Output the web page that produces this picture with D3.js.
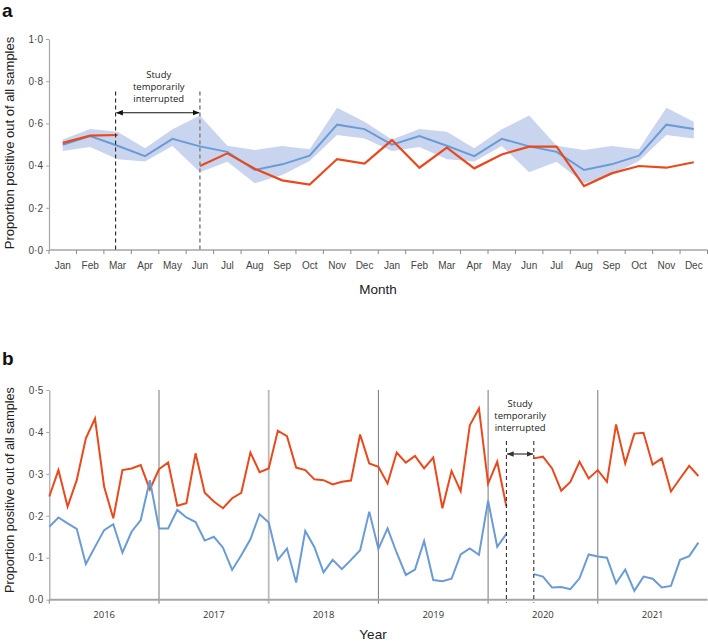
<!DOCTYPE html>
<html><head><meta charset="utf-8">
<script src="https://cdn.jsdelivr.net/npm/d3@7"></script>
<style>body{margin:0;background:#fff}svg{display:block}</style>
</head><body>
<svg id="c" width="708" height="644"></svg>
<script>
// ---------- DATA ----------
const monthNames = ["Jan","Feb","Mar","Apr","May","Jun","Jul","Aug","Sep","Oct","Nov","Dec"];
const monthsA = monthNames.concat(monthNames);
// panel a: historical mean and range (per calendar month)
const histMean  = [0.499,0.540,0.494,0.445,0.527,0.491,0.465,0.379,0.406,0.447,0.594,0.573];
const histUpper = [0.524,0.573,0.561,0.482,0.572,0.637,0.494,0.474,0.493,0.477,0.674,0.608];
const histLower = [0.469,0.488,0.430,0.419,0.493,0.368,0.418,0.316,0.355,0.422,0.545,0.529];
// panel a: observed 2020-2021
const observedA = [0.508,0.542,0.545,null,null,0.398,0.458,0.385,0.330,0.310,0.431,0.409,
                   0.521,0.390,0.485,0.387,0.453,0.490,0.490,0.303,0.363,0.398,0.390,0.416];
const yTicksA = [0,0.2,0.4,0.6,0.8,1.0];
// panel b: monthly 2016-2021
const years = ["2016","2017","2018","2019","2020","2021"];
const redB = [0.246,0.309,0.222,0.285,0.385,0.432,0.269,0.194,0.309,0.313,0.321,0.263,
              0.311,0.327,0.224,0.230,0.349,0.255,0.234,0.218,0.242,0.255,0.351,0.304,
              0.313,0.403,0.390,0.315,0.309,0.287,0.285,0.275,0.281,0.284,0.394,0.325,
              0.317,0.277,0.351,0.327,0.343,0.313,0.339,0.218,0.307,0.259,0.416,0.456,
              0.277,0.329,0.223,null,null,0.337,0.341,0.313,0.260,0.281,0.329,0.289,
              0.309,0.281,0.418,0.325,0.396,0.398,0.322,0.337,0.258,0.289,0.319,0.295];
const blueB = [0.174,0.196,0.182,0.169,0.085,0.126,0.166,0.180,0.112,0.162,0.190,0.285,
               0.170,0.170,0.214,0.196,0.185,0.141,0.150,0.124,0.071,0.106,0.144,0.204,
               0.184,0.095,0.122,0.041,0.164,0.125,0.065,0.095,0.073,0.095,0.118,0.210,
               0.121,0.170,0.112,0.059,0.072,0.140,0.047,0.044,0.050,0.108,0.122,0.107,
               0.236,0.126,0.157,null,null,0.061,0.055,0.029,0.030,0.025,0.051,0.108,
               0.103,0.100,0.039,0.072,0.021,0.055,0.050,0.029,0.033,0.095,0.104,0.136];
const yTicksB = [0,0.1,0.2,0.3,0.4,0.5];
const gapStart = 50, gapEnd = 53; // Mar 2020, Jun 2020 (index)
const gapA = [2,5];

// ---------- STYLE ----------
const RED = "#e8491d", BLUE = "#6a9bd5", BAND = "#c9d5ef", AXIS = "#a6a6a6";
const sans = "'Liberation Sans', Arial, sans-serif";
const myriad = "'Open Sans', 'Noto Sans', sans-serif";
const fmt = d => d3.format(".1f")(d).replace(".", "·");

const svg = d3.select("#c");
const defs = svg.append("defs");
function arrowMarker(id, color, orient) {
  defs.append("marker").attr("id", id).attr("viewBox", "0 0 10 10")
    .attr("refX", 9).attr("refY", 5).attr("markerWidth", 7).attr("markerHeight", 7)
    .attr("orient", orient).attr("markerUnits", "userSpaceOnUse")
    .append("path").attr("d", "M0,1 L10,5 L0,9 Z").attr("fill", color);
}
arrowMarker("arrA", "#111", "auto-start-reverse");
arrowMarker("arrB", "#333", "auto-start-reverse");

// ================= PANEL A =================
const L = 49, R = 707.5;
const xA = d3.scaleBand().domain(d3.range(24)).range([L, R]);
const cx = i => xA(i) + xA.bandwidth() / 2;
const yA = d3.scaleLinear().domain([0, 1]).range([250, 39]);
const gA = svg.append("g");

gA.append("text").text("a").attr("x", 2).attr("y", 17).attr("font-family", sans)
  .attr("font-weight", "bold").attr("font-size", 19).attr("fill", "#111");

const bandData = d3.range(24).map(i => ({i, lo: histLower[i % 12], hi: histUpper[i % 12], m: histMean[i % 12]}));
gA.append("path").datum(bandData)
  .attr("d", d3.area().x(d => cx(d.i)).y0(d => yA(d.lo)).y1(d => yA(d.hi)))
  .attr("fill", BAND);

// axes
const yAxisA = d3.axisLeft(yA).tickValues(yTicksA).tickFormat(fmt).tickSize(3).tickSizeOuter(0);
const ga = gA.append("g").attr("transform", `translate(${L},0)`).call(yAxisA);
ga.select(".domain").attr("stroke", AXIS).attr("stroke-width", 1.2);
ga.selectAll(".tick line").attr("stroke", AXIS);
ga.selectAll("text").attr("font-family", sans).attr("font-size", 10).attr("fill", "#444").attr("x", -6);

gA.append("line").attr("x1", L).attr("x2", R).attr("y1", yA(0)).attr("y2", yA(0))
  .attr("stroke", AXIS).attr("stroke-width", 1.6);
gA.selectAll(".xt").data(d3.range(25)).join("line")
  .attr("x1", i => i < 24 ? xA(i) : R).attr("x2", i => i < 24 ? xA(i) : R)
  .attr("y1", yA(0)).attr("y2", yA(0) + 4).attr("stroke", "#888").attr("stroke-width", 1);
gA.selectAll(".xl").data(monthsA).join("text")
  .attr("x", (d, i) => cx(i)).attr("y", 269).attr("text-anchor", "middle")
  .attr("font-family", sans).attr("font-size", 10).attr("fill", "#444").text(d => d);

gA.append("text").text("Month").attr("x", 378).attr("y", 294).attr("text-anchor", "middle")
  .attr("font-family", sans).attr("font-size", 13.5).attr("fill", "#222");
gA.append("text").text("Proportion positive out of all samples")
  .attr("transform", `translate(14,143) rotate(-90)`).attr("text-anchor", "middle")
  .attr("font-family", sans).attr("font-size", 13).attr("fill", "#222");

// lines
gA.append("path").datum(bandData)
  .attr("d", d3.line().x(d => cx(d.i)).y(d => yA(d.m)))
  .attr("fill", "none").attr("stroke", BLUE).attr("stroke-width", 2);
gA.append("path").datum(observedA.map((v, i) => ({i, v})))
  .attr("d", d3.line().defined(d => d.v != null).x(d => cx(d.i)).y(d => yA(d.v)))
  .attr("fill", "none").attr("stroke", RED).attr("stroke-width", 2.2);

// interruption
const dashTopA = 91.5;
gA.append("line").attr("x1", cx(gapA[0]) - 2).attr("x2", cx(gapA[0]) - 2).attr("y1", dashTopA).attr("y2", yA(0))
  .attr("stroke", "#222").attr("stroke-width", 1.1).attr("stroke-dasharray", "4,3");
gA.append("line").attr("x1", cx(gapA[1])).attr("x2", cx(gapA[1])).attr("y1", dashTopA).attr("y2", yA(0))
  .attr("stroke", "#888").attr("stroke-width", 1.6).attr("stroke-dasharray", "4,3");
gA.append("line").attr("x1", cx(gapA[0]) - 1).attr("x2", cx(gapA[1]) - 1).attr("y1", 112.7).attr("y2", 112.7)
  .attr("stroke", "#111").attr("stroke-width", 1.1)
  .attr("marker-start", "url(#arrA)").attr("marker-end", "url(#arrA)");
const midA = (cx(gapA[0]) + cx(gapA[1])) / 2;
["Study", "temporarily", "interrupted"].forEach((t, k) => {
  gA.append("text").text(t).attr("x", midA).attr("y", 78 + k * 12).attr("text-anchor", "middle")
    .attr("font-family", myriad).attr("font-size", 9.5).attr("fill", "#222");
});

// ================= PANEL B =================
const xB = d3.scaleLinear().domain([0, 72]).range([49.3, 707.5]);
const yB = d3.scaleLinear().domain([0, 0.5]).range([599.7, 390]);
const gB = svg.append("g");

gB.append("text").text("b").attr("x", 2).attr("y", 365).attr("font-family", sans)
  .attr("font-weight", "bold").attr("font-size", 19).attr("fill", "#111");

const yAxisB = d3.axisLeft(yB).tickValues(yTicksB).tickFormat(fmt).tickSize(3).tickSizeOuter(0);
const gb = gB.append("g").attr("transform", `translate(49.3,0)`).call(yAxisB);
gb.select(".domain").attr("stroke", AXIS).attr("stroke-width", 1.2);
gb.selectAll(".tick line").attr("stroke", AXIS);
gb.selectAll("text").attr("font-family", sans).attr("font-size", 10).attr("fill", "#444").attr("x", -6);

// year separators
const sepStyles = [
  {c: "#777", w: 1}, {c: "#bbb", w: 1.8}, {c: "#777", w: 1}, {c: "#777", w: 1}, {c: "#777", w: 1}
];
gB.selectAll(".sep").data(d3.range(1, 6)).join("line")
  .attr("x1", k => xB(12 * k)).attr("x2", k => xB(12 * k))
  .attr("y1", yB(0.5)).attr("y2", yB(0) + 4)
  .attr("stroke", (k, j) => sepStyles[j].c).attr("stroke-width", (k, j) => sepStyles[j].w);
gB.append("line").attr("x1", xB(0)).attr("x2", xB(0)).attr("y1", yB(0)).attr("y2", yB(0) + 4)
  .attr("stroke", "#888");
gB.append("line").attr("x1", xB(0)).attr("x2", xB(72)).attr("y1", yB(0)).attr("y2", yB(0))
  .attr("stroke", AXIS).attr("stroke-width", 2);

gB.selectAll(".yl").data(years).join("text")
  .attr("x", (d, k) => xB(12 * k + 6)).attr("y", 618).attr("text-anchor", "middle")
  .attr("font-family", myriad).attr("font-size", 9.5).attr("fill", "#333").text(d => d);
gB.append("text").text("Year").attr("x", 373).attr("y", 639).attr("text-anchor", "middle")
  .attr("font-family", sans).attr("font-size", 13.5).attr("fill", "#222");
gB.append("text").text("Proportion positive out of all samples")
  .attr("transform", `translate(14,490) rotate(-90)`).attr("text-anchor", "middle")
  .attr("font-family", sans).attr("font-size", 12.6).attr("fill", "#222");

const lineB = d3.line().defined(d => d.v != null).x(d => xB(d.i)).y(d => yB(d.v));
gB.append("path").datum(redB.map((v, i) => ({i, v}))).attr("d", lineB)
  .attr("fill", "none").attr("stroke", RED).attr("stroke-width", 2);
gB.append("path").datum(blueB.map((v, i) => ({i, v}))).attr("d", lineB)
  .attr("fill", "none").attr("stroke", BLUE).attr("stroke-width", 2);

// interruption b
const dashTopB = 441;
[gapStart, gapEnd].forEach(i => {
  gB.append("line").attr("x1", xB(i)).attr("x2", xB(i)).attr("y1", dashTopB).attr("y2", yB(0) + 3)
    .attr("stroke", "#222").attr("stroke-width", 1).attr("stroke-dasharray", "4,3");
});
gB.append("line").attr("x1", xB(gapStart) + 1).attr("x2", xB(gapEnd) - 1).attr("y1", 454).attr("y2", 454)
  .attr("stroke", "#444").attr("stroke-width", 1.3)
  .attr("marker-start", "url(#arrB)").attr("marker-end", "url(#arrB)");
const midB = (xB(gapStart) + xB(gapEnd)) / 2;
["Study", "temporarily", "interrupted"].forEach((t, k) => {
  gB.append("text").text(t).attr("x", midB).attr("y", 407 + k * 12).attr("text-anchor", "middle")
    .attr("font-family", myriad).attr("font-size", 9.5).attr("fill", "#222");
});
</script>
</body></html>
